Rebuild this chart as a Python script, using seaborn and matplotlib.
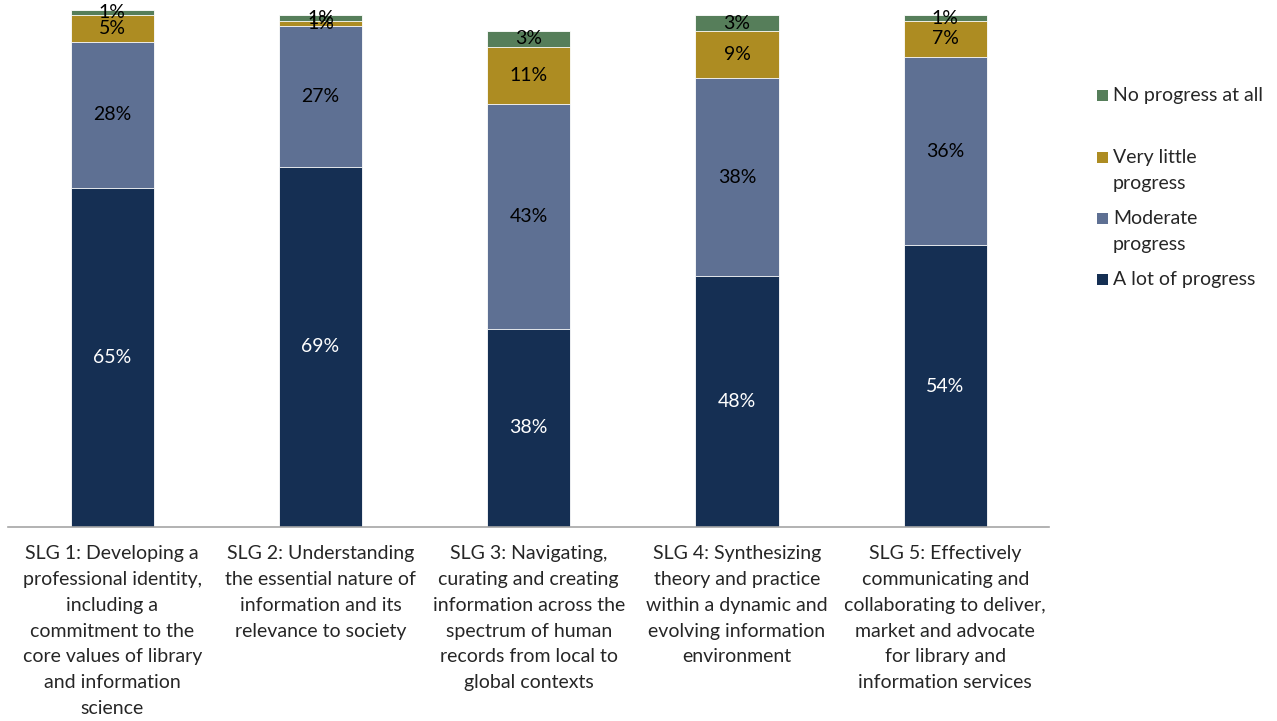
import numpy as np
import pandas as pd
import matplotlib
matplotlib.use('Agg')
import matplotlib.pyplot as plt
from matplotlib.patches import Rectangle
import seaborn as sns

# Data

goals = ['SLG 1: Developing a\nprofessional identity,\nincluding a\ncommitment to the\ncore values of library\nand information\nscience',
         'SLG 2: Understanding\nthe essential nature of\ninformation and its\nrelevance to society',
         'SLG 3: Navigating,\ncurating and creating\ninformation across the\nspectrum of human\nrecords from local to\nglobal contexts',
         'SLG 4: Synthesizing\ntheory and practice\nwithin a dynamic and\nevolving information\nenvironment',
         'SLG 5: Effectively\ncommunicating and\ncollaborating to deliver,\nmarket and advocate\nfor library and\ninformation services']
a_lot = [65, 69, 38, 48, 54]
moderate = [28, 27, 43, 38, 36]
very_little = [5, 1, 11, 9, 7]
no_progress = [1, 1, 3, 3, 1]

series_names = ['A lot of progress', 'Moderate progress', 'Very little progress', 'No progress at all']
legend_labels = ['A lot of progress', 'Moderate\nprogress', 'Very little\nprogress', 'No progress at all']
colors = ['#152f53', '#5e7093', '#ad8c22', '#567e5a']
text_colors = ['white', 'black', 'black', 'black']

# Setup

sns.set_theme(style='white')
plt.rcParams['font.family'] = ['Lato', 'DejaVu Sans']
fs = 14
line_sp = 1.63
W, H = 1277, 721

df = pd.DataFrame({'goal': goals, series_names[0]: a_lot, series_names[1]: moderate,
                   series_names[2]: very_little, series_names[3]: no_progress})
layers = df[series_names].cumsum(axis=1)

fig = plt.figure(figsize=(W / 100, H / 100), dpi=100)
ax = fig.add_axes([0.0063, 0.269, 0.8155, 0.724])

# stacked bars: draw cumulative totals from the top layer down
for name, col in reversed(list(zip(series_names, colors))):
    sns.barplot(x=df['goal'], y=layers[name], color=col, width=0.4, ax=ax,
                edgecolor='white', linewidth=0.6, saturation=1)

# segment labels
for j, name in enumerate(series_names):
    bottoms = layers[name] - df[name]
    for i in range(len(goals)):
        ax.text(i, bottoms[i] + df[name][i] / 2, f'{df[name][i]}%', ha='center', va='center',
                fontsize=fs, color=text_colors[j])

ax.set_ylim(0, 100)
ax.set_xlim(-0.5, 4.5)
ax.set_xlabel('')
ax.set_ylabel('')
ax.set_yticks([])
for s in ['top', 'right', 'left']:
    ax.spines[s].set_visible(False)
ax.spines['bottom'].set_color('#a6a6a6')
ax.spines['bottom'].set_linewidth(1.2)

ax.set_xticks(range(len(goals)))
ax.set_xticklabels(goals, fontsize=fs, va='top')
for lbl in ax.get_xticklabels():
    lbl.set_linespacing(line_sp)
ax.tick_params(axis='x', which='major', length=0, pad=13)
ax.set_xticks(np.arange(-0.5, 5, 1), minor=True)
ax.tick_params(axis='x', which='minor', length=7, width=1.2, color='#a6a6a6', direction='out')

# legend drawn by hand, Excel style: marker next to the first line of each entry
entry_y = [279, 218, 157, 95]  # pixel row of first line, bottom entry first
for lab, col, y in zip(legend_labels, colors, entry_y):
    fig.add_artist(Rectangle((1097 / W, 1 - (y + 5.5) / H), 11 / W, 11 / H,
                             transform=fig.transFigure, facecolor=col, edgecolor='none'))
    for k, line in enumerate(lab.split('\n')):
        fig.text(1113 / W, 1 - (y + 6 + 26 * k) / H, line, fontsize=fs,
                 ha='left', va='baseline')

plt.savefig('out.png', dpi=100)
plt.close()
